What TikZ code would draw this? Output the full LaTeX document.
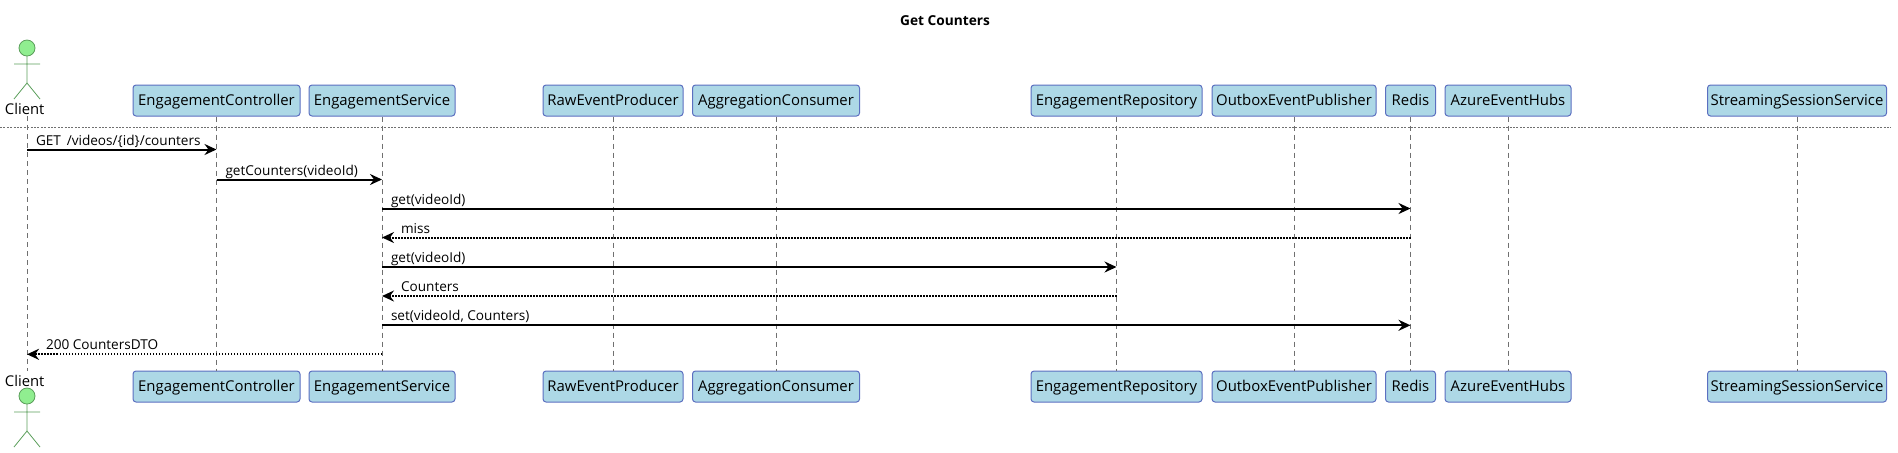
\documentclass[tikz,border=0pt]{standalone}
\usepackage{fontspec}
\setmainfont{Open Sans}
\usetikzlibrary{arrows.meta, positioning}
\definecolor{boxfill}{HTML}{ADD8E6}
\definecolor{boxline}{HTML}{5B6FC0}
\definecolor{actorfill}{HTML}{90EE90}
\definecolor{actorline}{HTML}{5A9E5A}
\definecolor{lifeline}{HTML}{707070}
\tikzset{>={Stealth[length=6pt,width=5.5pt,inset=2pt]}}
\tikzset{
  partbox/.style={draw=boxline, fill=boxfill, rounded corners=1.5pt, line width=0.5pt, font=\fontsize{7.45}{10}\selectfont, minimum height=15.5pt, inner sep=0pt, text height=6.2pt, text depth=1pt},
  partline/.style={lifeline, dash pattern=on 2.5pt off 2pt, line width=0.35pt},
  actorshape/.style={actorline, line width=0.4pt},
  call/.style={->, line width=1pt},
  reply/.style={->, line width=1pt, dash pattern=on 0.75pt off 0.75pt},
  msglabel/.style={anchor=base west, inner sep=0pt, font=\fontsize{6.8}{9}\selectfont},
  actorlabel/.style={inner sep=0pt, font=\fontsize{7.4}{10}\selectfont},
}
\begin{document}
\begin{tikzpicture}[x=0.5pt,y=-0.5pt]
  \useasboundingbox (0,0) rectangle (1898,452);
  \node[font=\bfseries\fontsize{6.85}{9}\selectfont, inner sep=0pt] (title) at (945,21) {Get Counters};
  % divider
  \coordinate (divleft) at (0,127.5);
  \coordinate (divright) at (1891,127.5);
  \draw[lifeline, dash pattern=on 1pt off 0.7pt, line width=0.35pt] (divleft) -- (divright);
  % participants
  \foreach \name/\txt/\cx/\boxw in {ctrl/EngagementController/216.5/83.5pt, svc/EngagementService/382/73pt,
      producer/RawEventProducer/613/70pt, consumer/AggregationConsumer/776/83.5pt,
      repo/EngagementRepository/1116.5/85.5pt, outbox/OutboxEventPublisher/1294/82pt,
      redis/Redis/1410.5/25pt, hubs/AzureEventHubs/1508/63pt, session/StreamingSessionService/1797/89.5pt} {
    \node[partbox, minimum width=\boxw] (\name top) at (\cx,100.5) {\txt};
    \node[partbox, minimum width=\boxw] (\name bot) at (\cx,386.5) {\txt};
    \draw[partline] (\name top) -- (\name bot);
  }
  % client actor, top
  \coordinate (clienttop) at (27,116);
  \coordinate (clientbot) at (27,371);
  \draw[partline] (clienttop) -- (clientbot);
  \node[actorlabel] (clientup) at (24.7,108.5) {Client};
  \node[actorlabel] (clientdown) at (24.7,380.5) {Client};
  \draw[actorshape, fill=actorfill] (27,48) circle (8);
  \draw[actorshape] (14,64) -- (40,64) (27,56) -- (27,83) (14,99) -- (27,83) -- (40,99);
  % client actor, bottom
  \draw[actorshape, fill=actorfill] (27,396) circle (8);
  \draw[actorshape] (14,412) -- (40,412) (27,404) -- (27,431) (14,447) -- (27,431) -- (40,447);
  % messages
  \coordinate (m1) at (0,149.5);
  \coordinate (m2) at (0,179.5);
  \coordinate (m3) at (0,208.5);
  \coordinate (m4) at (0,237.5);
  \coordinate (m5) at (0,267);
  \coordinate (m6) at (0,296);
  \coordinate (m7) at (0,325.3);
  \coordinate (m8) at (0,354.3);
  \draw[call] (clienttop |- m1) -- (ctrltop |- m1) node[msglabel, pos=0, xshift=4pt, yshift=2.2pt] (l1) {GET \,/videos/\{id\}/counters};
  \draw[call] (ctrltop |- m2) -- (svctop |- m2) node[msglabel, pos=0, xshift=4pt, yshift=2.2pt] (l2) {getCounters(videoId)};
  \draw[call] (svctop |- m3) -- (redistop |- m3) node[msglabel, pos=0, xshift=4pt, yshift=2.2pt] (l3) {get(videoId)};
  \draw[reply] (redistop |- m4) -- (svctop |- m4) node[msglabel, pos=1, xshift=9pt, yshift=2.2pt] (l4) {miss};
  \draw[call] (svctop |- m5) -- (repotop |- m5) node[msglabel, pos=0, xshift=4pt, yshift=2.2pt] (l5) {get(videoId)};
  \draw[reply] (repotop |- m6) -- (svctop |- m6) node[msglabel, pos=1, xshift=9pt, yshift=2.2pt] (l6) {Counters};
  \draw[call] (svctop |- m7) -- (redistop |- m7) node[msglabel, pos=0, xshift=4pt, yshift=2.2pt] (l7) {set(videoId, Counters)};
  \draw[reply] (svctop |- m8) -- (clienttop |- m8) node[msglabel, pos=1, xshift=9pt, yshift=2.2pt] (l8) {200 CountersDTO};
\end{tikzpicture}
\end{document}
